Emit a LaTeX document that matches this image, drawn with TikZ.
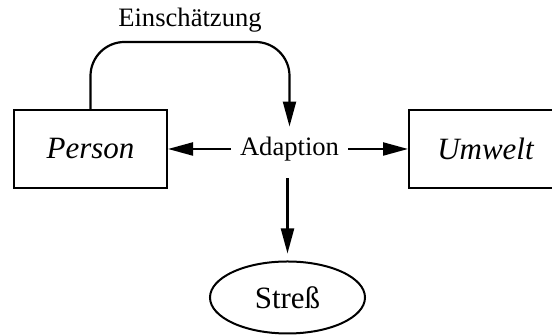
\documentclass[tikz,border=0pt]{standalone}
\usepackage{fontspec}
\setmainfont{Liberation Serif}
\usetikzlibrary{arrows.meta,positioning,shapes.geometric}

\begin{document}
\begin{tikzpicture}[
  x=0.5pt,y=0.5pt,
  font=\fontsize{13.3}{16}\selectfont,
  arrow/.style={-{Triangle[length=12.5pt,width=6.5pt]},line width=1.1pt},
  entitybox/.style={draw,line width=1pt,minimum width=76.5pt,minimum height=39pt,
    inner sep=0pt,font=\fontsize{15.5}{18}\selectfont\itshape},
  outcome/.style={ellipse,draw,line width=1pt,minimum width=77.5pt,minimum height=36pt,
    inner sep=0pt,font=\fontsize{15.5}{18}\selectfont},
  process/.style={inner xsep=4.5pt,inner ysep=5pt},
  looplabel/.style={inner sep=3pt}
]
\useasboundingbox (0,0) rectangle (552,335);

% The two actors left and right, the process in between.
\node[entitybox] (person) at (90.5,186) {Person};
\node[entitybox] (umwelt) at (485.5,186) {Umwelt};
\node[process] (adaption) at (289.5,186) {Adaption};
\node[outcome] (stress) at (287.5,37.5) {Streß};

\draw[arrow] (adaption.west) -- (person.east);
\draw[arrow] (adaption.east) -- (umwelt.west);
\draw[arrow,shorten <=3.5pt,shorten >=3.5pt] (adaption.south -| stress.north) -- (stress.north);
% Feedback loop from the person back into the process.
\draw[arrow,rounded corners=17pt] (person.north) -- ++(0,67)
  -| node[looplabel,pos=0.25,above=1.5pt] (einsch) {Einschätzung} (adaption.north);
\end{tikzpicture}
\end{document}
